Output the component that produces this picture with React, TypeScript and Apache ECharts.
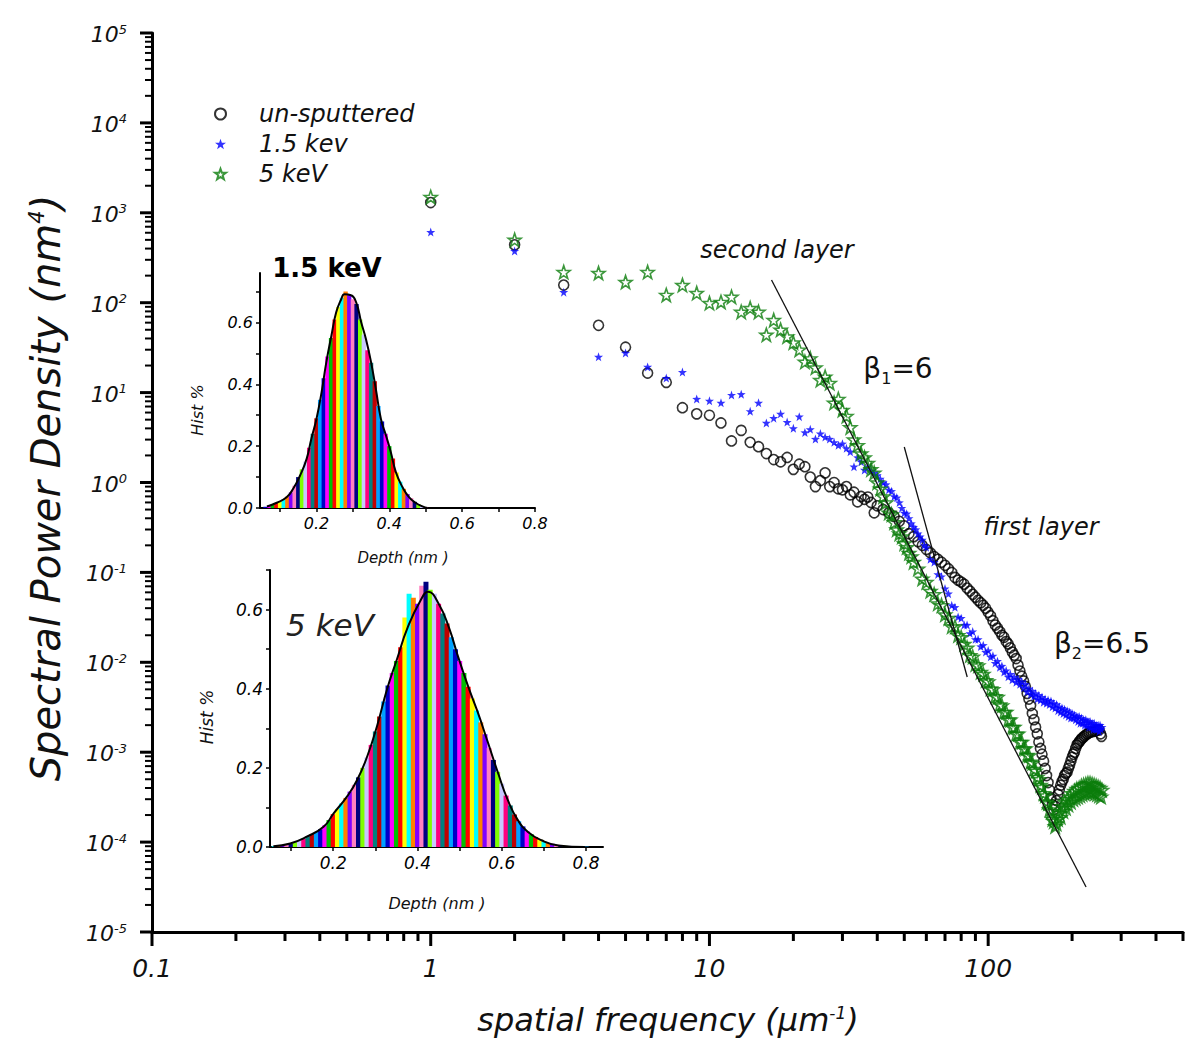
import React, { useEffect, useRef } from 'react';
import * as echarts from 'echarts';

const FONT = '"DejaVu Sans", "Liberation Sans", sans-serif';
const STAR = 'path://M50,0L61.76,33.82L97.55,34.55L69.02,56.18L79.39,90.45L50,70L20.61,90.45L30.98,56.18L2.45,34.55L38.24,33.82Z';

// ---- main plot data: [spatial frequency (um^-1), PSD (nm^4)] ----
const UNSPUTTERED: [number, number][] = [
  [1, 1300], [2, 440], [3, 157], [4, 56], [5, 32], [6, 16.5], [7, 13], [8, 6.8], [9, 5.8], [10, 5.6],
  [11, 4.6], [12, 2.9], [13, 3.8], [14, 2.8], [15, 2.5], [16, 2.1], [17, 1.8], [18, 1.7], [19, 1.9], [20, 1.4],
  [21, 1.6], [22, 1.5], [23, 1.15], [24, 0.9], [25, 1.05], [26, 1.28], [27, 0.9], [28, 1.0], [29, 0.85], [30, 0.83],
  [31, 0.9], [32, 0.73], [33, 0.78], [34, 0.61], [35, 0.7], [36, 0.65], [37, 0.69], [38, 0.6], [39, 0.46],
  [40, 0.55], [42, 0.5], [44, 0.46], [46, 0.42], [48, 0.37], [50, 0.33], [52, 0.27], [54, 0.25], [56, 0.22], [58, 0.2],
  [60, 0.18], [62, 0.165], [64, 0.15], [66, 0.14], [68, 0.13], [70, 0.12], [72, 0.11], [74, 0.1], [76, 0.088], [78, 0.082],
  [80, 0.078], [82, 0.074], [84, 0.067], [86, 0.062], [88, 0.057], [90, 0.053], [92, 0.049], [94, 0.046], [96, 0.043], [98, 0.04],
  [100, 0.036], [102, 0.033], [104, 0.029], [106, 0.026], [108, 0.024], [110, 0.022], [112, 0.02], [114, 0.019], [116, 0.017], [118, 0.016],
  [120, 0.0145], [122, 0.013], [124, 0.012], [126, 0.011], [128, 0.0093], [130, 0.008], [132, 0.007], [134, 0.0062], [136, 0.0054], [138, 0.0045],
  [140, 0.0039], [142, 0.0033], [144, 0.0027], [146, 0.0023], [148, 0.0019], [150, 0.0016], [152, 0.0013], [154, 0.0011], [156, 0.00095], [158, 0.0008],
  [160, 0.00066], [162, 0.00055], [164, 0.00046], [166, 0.00038], [168, 0.00031], [170, 0.00026], [172, 0.00023], [174, 0.00025], [176, 0.00029], [178, 0.00034],
  [180, 0.00038], [182, 0.00043], [184, 0.00047], [186, 0.0005], [188, 0.00055], [190, 0.00058], [192, 0.0006], [194, 0.00066], [196, 0.00072], [198, 0.0008],
  [200, 0.00088], [202, 0.00095], [204, 0.001], [206, 0.0011], [208, 0.0012], [210, 0.00125], [212, 0.0013], [214, 0.00135], [216, 0.0014], [218, 0.00145],
  [221, 0.0015], [224, 0.00155], [227, 0.0016], [230, 0.00165], [234, 0.00168], [238, 0.0017], [242, 0.00172], [246, 0.00175], [250, 0.00177], [253, 0.0016], [255, 0.0015],
];

const KEV15: [number, number][] = [
  [1, 610], [2, 376], [3, 131], [4, 25], [5, 27.6], [6, 19.3], [7, 14.5], [8, 16.9], [9, 8.5], [10, 8.1],
  [11, 7.7], [12, 9.4], [13, 9.6], [14, 6.2], [15, 7.7], [16, 4.6], [17, 5.2], [18, 5.8], [19, 4.7], [20, 4.0],
  [21, 5.4], [22, 3.6], [23, 3.9], [24, 3.05], [25, 3.5], [26, 3.2], [27, 3.05], [28, 2.8], [29, 2.6], [30, 2.7],
  [31, 2.4], [32, 2.2], [33, 1.5], [34, 1.9], [35, 1.7], [36, 1.38], [37, 1.5], [38, 1.35], [39, 1.28],
  [40, 1.2], [41, 1.1], [42, 1.0], [43, 0.95], [44, 0.83], [45, 0.8], [46, 0.7], [47, 0.68], [48, 0.6], [49, 0.52],
  [50, 0.46], [51, 0.45], [52, 0.4], [53, 0.35], [54, 0.32], [55, 0.3], [56, 0.27], [57, 0.25], [58, 0.23], [59, 0.2],
  [60, 0.19], [62, 0.14], [64, 0.13], [66, 0.095], [68, 0.09], [70, 0.066], [72, 0.058], [74, 0.043], [76, 0.041], [78, 0.032],
  [80, 0.031], [82, 0.026], [84, 0.026], [86, 0.021], [88, 0.022], [90, 0.018], [92, 0.018], [94, 0.015], [96, 0.0155], [98, 0.013],
  [100, 0.0135], [102, 0.0115], [104, 0.0118], [106, 0.0098], [108, 0.0103], [110, 0.0088], [112, 0.0091], [114, 0.0078], [116, 0.0081], [118, 0.0069],
  [120, 0.0074], [122, 0.0064], [124, 0.0069], [126, 0.006], [128, 0.0065], [130, 0.0057], [132, 0.0061], [134, 0.0052], [136, 0.0057], [138, 0.0047],
  [140, 0.0051], [142, 0.0044], [144, 0.0048], [146, 0.0042], [148, 0.0045], [150, 0.0039], [152, 0.0043], [154, 0.0038], [156, 0.0041], [158, 0.0036],
  [160, 0.0039], [162, 0.0035], [164, 0.0038], [166, 0.0034], [168, 0.0037], [170, 0.0032], [172, 0.0035], [174, 0.0031], [176, 0.0034], [178, 0.0029],
  [180, 0.0032], [182, 0.0028], [184, 0.0031], [186, 0.0027], [188, 0.003], [190, 0.0026], [192, 0.0029], [194, 0.0025], [196, 0.0028], [198, 0.0024],
  [200, 0.0027], [202, 0.0024], [204, 0.0026], [206, 0.0023], [208, 0.0025], [210, 0.0022], [212, 0.0025], [214, 0.0021], [216, 0.0024], [218, 0.0021],
  [220, 0.0023], [222, 0.002], [224, 0.0023], [226, 0.002], [228, 0.0022], [230, 0.0019], [232, 0.0022], [234, 0.0019], [236, 0.0021], [238, 0.0018],
  [240, 0.0021], [242, 0.0018], [244, 0.002], [246, 0.0018], [248, 0.002], [250, 0.0017], [252, 0.002], [254, 0.0018], [256, 0.0019],
];

const KEV5: [number, number][] = [
  [1, 1500], [2, 500], [3, 219], [4, 214], [5, 170], [6, 219], [7, 122], [8, 157], [9, 128], [10, 99],
  [11, 102], [12, 116], [13, 79], [14, 87], [15, 79], [16, 44], [17, 64], [18, 50], [19, 42], [20, 36],
  [21, 30], [22, 22], [23, 24], [24, 19], [25, 13.8], [26, 15], [27, 12.8], [28, 7.7], [29, 8.5], [30, 6.4],
  [31, 5.5], [32, 4.1], [33, 3.0], [34, 2.6], [35, 2.1], [36, 1.9], [37, 1.65], [38, 1.4], [39, 1.28],
  [40, 1.0], [41, 0.85], [42, 0.7], [43, 0.6], [44, 0.46], [45, 0.44], [46, 0.36], [47, 0.3], [48, 0.27], [49, 0.25],
  [50, 0.21], [51, 0.19], [52, 0.164], [53, 0.15], [54, 0.13], [56, 0.11], [58, 0.085], [60, 0.078], [62, 0.062], [64, 0.057],
  [66, 0.045], [68, 0.043], [70, 0.034], [72, 0.031], [74, 0.025], [76, 0.025], [78, 0.02], [80, 0.019], [82, 0.016], [84, 0.0145],
  [86, 0.012], [88, 0.0115], [90, 0.0095], [92, 0.0092], [94, 0.0078], [96, 0.0074], [98, 0.0063], [100, 0.0061], [102, 0.0051], [104, 0.005],
  [106, 0.0042], [108, 0.0041], [110, 0.0034], [112, 0.0033], [114, 0.0028], [116, 0.0028], [118, 0.0023], [120, 0.0023], [122, 0.0019], [124, 0.0019],
  [126, 0.0016], [128, 0.0016], [130, 0.0013], [132, 0.0013], [134, 0.0011], [136, 0.0011], [138, 0.00093], [140, 0.00092], [142, 0.00078], [144, 0.00076],
  [146, 0.00065], [148, 0.00062], [150, 0.00053], [152, 0.0005], [154, 0.00043], [156, 0.00041], [158, 0.00035], [160, 0.00033], [162, 0.00028], [164, 0.00027],
  [166, 0.00023], [168, 0.00022], [170, 0.00018], [172, 0.00017], [174, 0.00015], [176, 0.00016], [178, 0.00018], [180, 0.00021], [182, 0.00019], [184, 0.00025],
  [186, 0.00022], [188, 0.00028], [190, 0.00024], [192, 0.0003], [194, 0.00026], [196, 0.00032], [198, 0.00028], [200, 0.00035], [202, 0.0003], [204, 0.00037],
  [206, 0.00031], [208, 0.00039], [210, 0.00032], [212, 0.0004], [214, 0.00033], [216, 0.00042], [218, 0.00034], [220, 0.00043], [222, 0.00035], [224, 0.00044],
  [226, 0.00036], [228, 0.00045], [230, 0.00037], [232, 0.00045], [234, 0.00036], [236, 0.00044], [238, 0.00036], [240, 0.00043], [242, 0.00035], [244, 0.00042],
  [246, 0.00034], [248, 0.00041], [250, 0.00033], [252, 0.0004], [254, 0.00032], [256, 0.00038],
];

// fitted power-law guide lines (endpoints)
const BETA1_LINE: [number, number][] = [[16.7, 179], [224.5, 3.17e-5]];
const BETA2_LINE: [number, number][] = [[50.0, 2.48], [84.1, 6.86e-3]];

// axis tick labels
const X_LABEL_VALUES = [0.1, 1, 10, 100];
const Y_LABEL_EXPONENTS = [-5, -4, -3, -2, -1, 0, 1, 2, 3, 4, 5];

// ---- inset histograms ----
const HIST_BIN = 0.01;
const HIST15_START = 0.06;
const HIST15_VALUES = [
  0.004, 0.008, 0.012, 0.016, 0.022, 0.028, 0.037, 0.05, 0.072, 0.1,
  0.125, 0.15, 0.195, 0.24, 0.29, 0.35, 0.42, 0.49, 0.55, 0.61,
  0.65, 0.68, 0.70, 0.69, 0.675, 0.66, 0.61, 0.56, 0.51, 0.47,
  0.41, 0.33, 0.28, 0.24, 0.20, 0.16, 0.115, 0.085, 0.062, 0.045,
  0.032, 0.02, 0.012, 0.006, 0.002,
];
const FIT15: [number, number][] = [
  [0.064, 0.005], [0.091, 0.017], [0.118, 0.035], [0.136, 0.062], [0.155, 0.105], [0.173, 0.159], [0.186, 0.224],
  [0.2, 0.288], [0.214, 0.374], [0.227, 0.471], [0.241, 0.557], [0.254, 0.632], [0.268, 0.675], [0.277, 0.691],
  [0.295, 0.688], [0.309, 0.665], [0.323, 0.6], [0.336, 0.546], [0.35, 0.471], [0.363, 0.385], [0.377, 0.288],
  [0.391, 0.234], [0.404, 0.181], [0.418, 0.116], [0.436, 0.068], [0.454, 0.035], [0.472, 0.017], [0.491, 0.005], [0.505, 0.0],
];

const HIST5_START = 0.06;
const HIST5_VALUES = [
  0.002, 0.003, 0.004, 0.006, 0.009, 0.012, 0.016, 0.021, 0.027, 0.033,
  0.038, 0.045, 0.055, 0.068, 0.083, 0.096, 0.11, 0.124, 0.14, 0.157,
  0.176, 0.2, 0.226, 0.258, 0.292, 0.33, 0.368, 0.408, 0.44, 0.47,
  0.505, 0.58, 0.64, 0.63, 0.615, 0.66, 0.67, 0.65, 0.64, 0.615,
  0.59, 0.565, 0.53, 0.5, 0.47, 0.44, 0.405, 0.375, 0.345, 0.315,
  0.285, 0.25, 0.22, 0.19, 0.16, 0.13, 0.105, 0.082, 0.065, 0.052,
  0.04, 0.032, 0.025, 0.019, 0.014, 0.01, 0.008, 0.006, 0.004, 0.003,
  0.003, 0.002, 0.002, 0.001, 0.001,
];
const FIT5: [number, number][] = [
  [0.058, 0.002], [0.098, 0.009], [0.137, 0.026], [0.177, 0.051], [0.201, 0.085], [0.233, 0.128], [0.257, 0.17],
  [0.281, 0.23], [0.304, 0.306], [0.328, 0.4], [0.352, 0.477], [0.376, 0.553], [0.408, 0.625], [0.425, 0.645],
  [0.451, 0.613], [0.475, 0.553], [0.495, 0.485], [0.519, 0.409], [0.543, 0.34], [0.567, 0.264], [0.591, 0.187],
  [0.614, 0.119], [0.638, 0.068], [0.662, 0.038], [0.694, 0.017], [0.734, 0.004], [0.797, 0.0],
];

const BAR_COLORS = ['#0000c8', '#ff00ff', '#00c000', '#ff0000', '#ffff00', '#00ffff', '#ff8000', '#8000ff',
  '#ff80c0', '#000080', '#80ff00', '#c8c8ff', '#ff0080', '#008080', '#c00000', '#00a0ff'];

const INSET_XTICKS = [0.1, 0.2, 0.3, 0.4, 0.5, 0.6, 0.7, 0.8];
const INSET_XLABELS = [0.2, 0.4, 0.6, 0.8];
const INSET_YTICKS = [0, 0.1, 0.2, 0.3, 0.4, 0.5, 0.6, 0.7];
const INSET_YLABELS = [0, 0.2, 0.4, 0.6];

function buildTicks() {
  const out: number[][] = [];
  for (let e = -1; e <= 2; e++) {
    for (let k = 1; k <= 9; k++) {
      const v = k * Math.pow(10, e);
      if (v > 500.0001) break;
      out.push([v, 1e-5, 0, k === 1 ? 14 : 9, 3]);
    }
  }
  for (let e = -5; e <= 5; e++) {
    for (let k = 1; k <= 9; k++) {
      if (e === 5 && k > 1) break;
      out.push([0.1, k * Math.pow(10, e), k === 1 ? -12 : -7, 0, k === 1 ? 3 : 2]);
    }
  }
  return out;
}

function histData(start: number, values: number[]) {
  return values.map((v, i) => [+(start + i * HIST_BIN).toFixed(3), v]);
}

function insetAxis(grid: number, min: number, max: number, ticks: number[], labels: number[], fs: number) {
  return {
    type: 'value', gridIndex: grid, min, max,
    axisLine: { show: true, onZero: false, lineStyle: { color: '#000', width: 2 } },
    axisTick: { show: true, customValues: ticks, length: 4, lineStyle: { color: '#000', width: 1.5 } },
    axisLabel: { customValues: labels, formatter: (v: number) => v.toFixed(1), fontSize: fs, fontStyle: 'italic', fontFamily: FONT, color: '#000', margin: 7 },
    splitLine: { show: false },
  };
}

function txt(x: number, y: number, text: string, fontSize: number, opts: any = {}) {
  return {
    type: 'text', x, y, rotation: opts.rotation || 0, z: 50,
    style: {
      text, fontSize, fontFamily: FONT, fontStyle: opts.italic === false ? 'normal' : 'italic',
      fontWeight: opts.bold ? 'bold' : 'normal', fill: opts.color || '#111',
      align: 'center', verticalAlign: 'middle', rich: opts.rich,
    },
  };
}

function buildOption() {
  const supRich = (base: number, sup: number, raise: number) => ({
    t: { fontSize: base, fontStyle: 'italic', fontFamily: FONT, verticalAlign: 'bottom', fill: '#111' },
    s: { fontSize: sup, fontStyle: 'italic', fontFamily: FONT, verticalAlign: 'bottom', padding: [0, 0, raise, 0], fill: '#111' },
  });
  const subRich = (base: number, sub: number, drop: number) => ({
    b: { fontSize: base, fontFamily: FONT, verticalAlign: 'top', fill: '#111' },
    u: { fontSize: sub, fontFamily: FONT, verticalAlign: 'top', padding: [drop, 0, 0, 0], fill: '#111' },
  });

  return {
    animation: false,
    backgroundColor: '#fff',
    grid: [
      { left: 152, top: 33, width: 1031, height: 899, outerBoundsMode: 'none' },
      { left: 260, top: 273, width: 275, height: 235, outerBoundsMode: 'none' },
      { left: 270, top: 570, width: 333, height: 277, outerBoundsMode: 'none' },
    ],
    legend: {
      data: ['un-sputtered', '1.5 kev', '5 keV'],
      orient: 'vertical', left: 209, top: 97, itemWidth: 11, itemHeight: 11, itemGap: 6,
      selectedMode: false,
      textStyle: { fontFamily: FONT, fontStyle: 'italic', fontSize: 24, color: '#111', padding: [0, 0, 0, 28] },
    },
    xAxis: [
      {
        type: 'log', logBase: 10, gridIndex: 0, min: 0.1, max: 500, splitNumber: 4,
        axisLine: { show: true, onZero: false, lineStyle: { color: '#000', width: 3 } },
        axisTick: { show: false }, minorTick: { show: false }, splitLine: { show: false },
        axisLabel: { show: false },
      },
      insetAxis(1, 0.045, 0.8, INSET_XTICKS, INSET_XLABELS, 16),
      insetAxis(2, 0.05, 0.84, INSET_XTICKS, INSET_XLABELS, 17),
    ],
    yAxis: [
      {
        type: 'log', logBase: 10, gridIndex: 0, min: 1e-5, max: 1e5,
        axisLine: { show: true, onZero: false, lineStyle: { color: '#000', width: 3 } },
        axisTick: { show: false }, minorTick: { show: false }, splitLine: { show: false },
        axisLabel: { show: false },
      },
      insetAxis(1, 0, 0.76, INSET_YTICKS, INSET_YLABELS, 16),
      insetAxis(2, 0, 0.7, INSET_YTICKS, INSET_YLABELS, 17),
    ],
    series: [
      {
        type: 'custom', name: 'ticks', xAxisIndex: 0, yAxisIndex: 0, silent: true, clip: false, z: 4,
        data: buildTicks(),
        renderItem: (_p: any, api: any) => {
          const p = api.coord([api.value(0), api.value(1)]);
          return {
            type: 'line',
            shape: { x1: p[0], y1: p[1], x2: p[0] + api.value(2), y2: p[1] + api.value(3) },
            style: { stroke: '#000', lineWidth: api.value(4) },
          };
        },
      },
      {
        type: 'custom', name: 'ylabels', xAxisIndex: 0, yAxisIndex: 0, silent: true, clip: false, z: 4,
        data: Y_LABEL_EXPONENTS.map((e) => [0.1, Math.pow(10, e), e]),
        renderItem: (_p: any, api: any) => {
          const p = api.coord([api.value(0), api.value(1)]);
          const e = api.value(2);
          return {
            type: 'text', x: p[0] - 25, y: p[1] + 1,
            style: {
              text: `{b|10}{s|${e}}`, align: 'right', verticalAlign: 'middle',
              rich: {
                b: { fontSize: 22, fontStyle: 'italic', fontFamily: FONT, fill: '#111', verticalAlign: 'bottom' },
                s: { fontSize: 13, fontStyle: 'italic', fontFamily: FONT, fill: '#111', verticalAlign: 'bottom', padding: [0, 0, 10, 0] },
              },
            },
          };
        },
      },
      {
        type: 'custom', name: 'xlabels', xAxisIndex: 0, yAxisIndex: 0, silent: true, clip: false, z: 4,
        data: X_LABEL_VALUES.map((v) => [v, 1e-5]),
        renderItem: (_p: any, api: any) => {
          const v = api.value(0);
          const p = api.coord([v, api.value(1)]);
          return {
            type: 'text', x: p[0], y: p[1] + 24,
            style: {
              text: v < 1 ? v.toFixed(1) : String(Math.round(v)), align: 'center', verticalAlign: 'top',
              fontSize: 25, fontStyle: 'italic', fontFamily: FONT, fill: '#111',
            },
          };
        },
      },
      {
        type: 'line', name: 'beta1', xAxisIndex: 0, yAxisIndex: 0, data: BETA1_LINE, symbol: 'none', silent: true,
        lineStyle: { color: '#111', width: 1.3 }, z: 6,
      },
      {
        type: 'line', name: 'beta2', xAxisIndex: 0, yAxisIndex: 0, data: BETA2_LINE, symbol: 'none', silent: true,
        lineStyle: { color: '#111', width: 1.3 }, z: 6,
      },
      {
        type: 'scatter', name: 'un-sputtered', xAxisIndex: 0, yAxisIndex: 0, data: UNSPUTTERED,
        symbol: 'circle', symbolSize: 10,
        itemStyle: { color: 'rgba(255,255,255,0)', borderColor: '#000', borderWidth: 1.6 }, z: 3,
      },
      {
        type: 'scatter', name: '1.5 kev', xAxisIndex: 0, yAxisIndex: 0, data: KEV15,
        symbol: STAR, symbolSize: 9,
        itemStyle: { color: '#0000ff' }, z: 3,
      },
      {
        type: 'scatter', name: '5 keV', xAxisIndex: 0, yAxisIndex: 0, data: KEV5,
        symbol: STAR, symbolSize: 13,
        itemStyle: { color: 'rgba(255,255,255,0)', borderColor: '#0b7d0b', borderWidth: 1.6 }, z: 3,
      },
      {
        type: 'bar', name: 'hist15', xAxisIndex: 1, yAxisIndex: 1, data: histData(HIST15_START, HIST15_VALUES),
        barWidth: 4.3, silent: true,
        itemStyle: { color: (p: any) => BAR_COLORS[p.dataIndex % BAR_COLORS.length] },
      },
      {
        type: 'line', name: 'fit15', xAxisIndex: 1, yAxisIndex: 1, data: FIT15, smooth: true, symbol: 'none', silent: true,
        lineStyle: { color: '#000', width: 2 }, z: 5,
      },
      {
        type: 'bar', name: 'hist5', xAxisIndex: 2, yAxisIndex: 2, data: histData(HIST5_START, HIST5_VALUES),
        barWidth: 5, silent: true,
        itemStyle: { color: (p: any) => BAR_COLORS[(p.dataIndex + 5) % BAR_COLORS.length] },
      },
      {
        type: 'line', name: 'fit5', xAxisIndex: 2, yAxisIndex: 2, data: FIT5, smooth: true, symbol: 'none', silent: true,
        lineStyle: { color: '#000', width: 2 }, z: 5,
      },
    ],
    graphic: [
      txt(46, 488, '{t|Spectral Power Density (nm}{s|4}{t|)}', 40, { rotation: Math.PI / 2, rich: supRich(40, 21, 19) }),
      txt(668, 1020, '{t|spatial frequency (μm}{s|-1}{t|)}', 32, { rich: supRich(32, 17, 15) }),
      txt(777, 250, 'second layer', 24),
      txt(898, 370, '{b|β}{u|1}{b|=6}', 28, { italic: false, rich: subRich(28, 16, 16) }),
      txt(1041, 527, 'first layer', 24),
      txt(1102, 645, '{b|β}{u|2}{b|=6.5}', 28, { italic: false, rich: subRich(28, 16, 16) }),
      txt(327, 268, '1.5 keV', 26, { italic: false, bold: true, color: '#000' }),
      txt(197, 410, 'Hist %', 16, { rotation: Math.PI / 2 }),
      txt(403, 558, 'Depth (nm )', 15),
      txt(330, 625, '5 keV', 31, { color: '#222' }),
      txt(207, 717, 'Hist %', 17, { rotation: Math.PI / 2 }),
      txt(437, 903, 'Depth (nm )', 16),
    ],
  };
}

export default function App() {
  const ref = useRef<HTMLDivElement>(null);
  useEffect(() => {
    const chart = echarts.init(ref.current!, null, { renderer: 'svg' });
    chart.setOption(buildOption() as any);
    return () => chart.dispose();
  }, []);
  return (
    <div
      ref={ref}
      style={{ position: 'absolute', left: 0, top: 0, width: 1200, height: 1049, background: '#fff' }}
    />
  );
}
